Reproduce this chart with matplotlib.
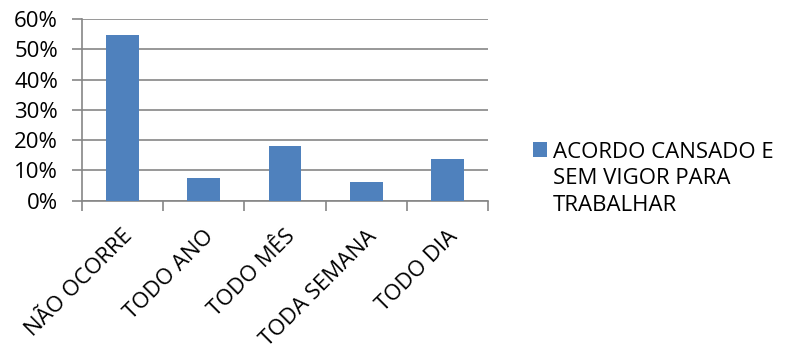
import numpy as np
import matplotlib
matplotlib.use("Agg")
import matplotlib.pyplot as plt
from matplotlib.ticker import FixedLocator, PercentFormatter

categorias = ["NÃO OCORRE", "TODO ANO", "TODO MÊS", "TODA SEMANA", "TODO DIA"]
valores = [54.7, 7.6, 18.2, 6.1, 13.7]   # %
legenda = "ACORDO CANSADO E\nSEM VIGOR PARA\nTRABALHAR"

plt.rcParams["font.family"] = ["Open Sans", "DejaVu Sans"]
plt.rcParams["font.size"] = 16

AZUL = "#4F81BD"
CINZA = "#868686"

fig = plt.figure(figsize=(7.85, 3.51), dpi=100)
ax = fig.add_axes([0.104, 0.428, 0.518, 0.518])

x = np.arange(len(categorias))
barras = ax.bar(x, valores, width=0.4, color=AZUL, label=legenda, zorder=3)

ax.set_xlim(-0.5, len(categorias) - 0.5)
ax.set_ylim(0, 60)
ax.yaxis.set_major_locator(FixedLocator(np.arange(0, 61, 10)))
ax.yaxis.set_major_formatter(PercentFormatter(decimals=0))
ax.grid(axis="y", color=CINZA, lw=1.2, zorder=0)

# ticks do eixo x nas fronteiras, rotulos no centro
ax.set_xticks(np.arange(-0.5, len(categorias)))
ax.set_xticklabels([])
ax.set_xticks(x, minor=True)
ax.set_xticklabels(categorias, minor=True, rotation=45, ha="right",
                   rotation_mode="anchor", fontsize=16)
ax.tick_params(axis="x", which="major", length=7, width=1.2, color=CINZA)
ax.tick_params(axis="x", which="minor", length=0, pad=18)
ax.tick_params(axis="y", length=7, width=1.2, color=CINZA, pad=10)

for s in ["top", "right"]:
    ax.spines[s].set_visible(False)
for s in ["left", "bottom"]:
    ax.spines[s].set_color(CINZA)
    ax.spines[s].set_linewidth(1.2)

leg = fig.legend(handles=[barras], labels=[legenda], loc="upper left",
                 bbox_to_anchor=(0.653, 0.652), frameon=False, fontsize=16,
                 handlelength=0.65, handleheight=0.65, handletextpad=0.25)
for t in leg.get_texts():
    t.set_linespacing(1.33)
# quadrado alinhado com a primeira linha
for col in leg._legend_handle_box.get_children():
    for linha in col.get_children():
        linha.align = "top"

fig.savefig("out.png", dpi=100)
